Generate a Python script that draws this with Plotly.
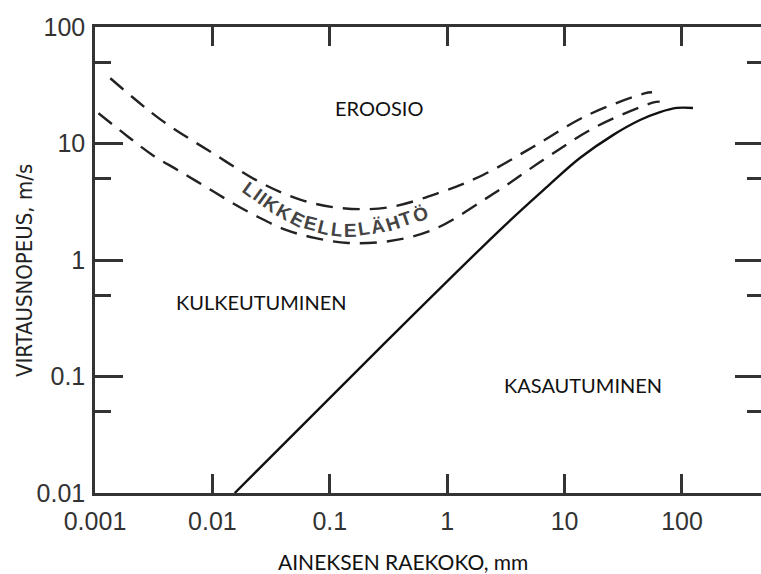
import numpy as np
import plotly.graph_objects as go

# ---------------- data (grain size mm, velocity m/s) ----------------
erosion_upper_x = [0.00135, 0.0037, 0.01, 0.0263, 0.0575, 0.126, 0.309, 0.871, 2.02, 5.37, 15.5, 47.9, 55.6]
erosion_upper_v = [36.3, 15.8, 8.3, 4.57, 3.27, 2.79, 2.82, 3.8, 5.37, 9.33, 17.4, 26.9, 27.5]

erosion_lower_x = [0.00107, 0.0019, 0.0031, 0.0051, 0.0087, 0.0148, 0.0245, 0.0417, 0.0741,
                   0.143, 0.316, 0.759, 2.4, 6.61, 18.2, 56.2, 64.6]
erosion_lower_v = [18.2, 11.5, 7.94, 5.89, 4.27, 3.09, 2.34, 1.82, 1.55,
                   1.40, 1.45, 1.82, 3.63, 7.24, 13.8, 22.4, 22.9]

deposition_x = [0.0155, 0.27, 2.93, 7.08, 13.5, 25.8, 43.9, 65, 90.6, 124]
deposition_v = [0.01, 0.178, 1.88, 4.24, 7.5, 11.8, 15.9, 18.6, 20.2, 20.2]

x_tickvals = [0.001, 0.01, 0.1, 1, 10, 100]
x_ticktext = ["0.001", "0.01", "0.1", "1", "10", "100"]
y_tickvals = [0.01, 0.1, 1, 10, 100]
y_ticktext = ["0.01", "0.1", "1", "10", "100"]
y_minor = [0.05, 0.5, 5, 50]

region_labels = ["EROOSIO", "KULKEUTUMINEN", "KASAUTUMINEN"]
region_lx = [-0.58, -1.58, 1.16]   # log10 positions
region_ly = [1.305, -0.36, -1.07]

curve_label = "LIIKKEELLELÄHTÖ"

x_title = "AINEKSEN RAEKOKO, mm"
y_title = "VIRTAUSNOPEUS, m/s"

# ---------------- layout constants ----------------
W, H = 761, 574
ML, MR, MT, MB = 95, 0, 27, 81
X_RANGE = [-3, 2.673]
Y_RANGE = [-2, 2]
PW, PH = W - ML - MR, H - MT - MB
SL, ST = ML, MT
AX = "#333333"

fig = go.Figure()

dash = "17px,10px"
fig.add_trace(go.Scatter(x=erosion_upper_x, y=erosion_upper_v, mode="lines",
                         line=dict(color="#222", width=2.4, dash=dash, shape="spline", smoothing=1.0),
                         hoverinfo="skip", showlegend=False))
fig.add_trace(go.Scatter(x=erosion_lower_x, y=erosion_lower_v, mode="lines",
                         line=dict(color="#222", width=2.4, dash=dash, shape="spline", smoothing=1.0),
                         hoverinfo="skip", showlegend=False))
fig.add_trace(go.Scatter(x=deposition_x, y=deposition_v, mode="lines",
                         line=dict(color="#111", width=2.4, shape="spline", smoothing=1.0),
                         hoverinfo="skip", showlegend=False))
# invisible trace to activate the right-side tick axis
fig.add_trace(go.Scatter(x=deposition_x, y=deposition_v, yaxis="y2", mode="lines",
                         line=dict(width=0), opacity=0, hoverinfo="skip", showlegend=False))

tickfont = dict(family="Liberation Sans, Arial, sans-serif", size=25, color="#333")

fig.update_layout(
    width=W, height=H, autosize=False,
    margin=dict(l=ML, r=MR, t=MT, b=MB, pad=0),
    paper_bgcolor="white", plot_bgcolor="white",
    xaxis=dict(type="log", range=X_RANGE, showgrid=False, zeroline=False,
               showline=True, linewidth=2.5, linecolor=AX, mirror="ticks",
               ticks="inside", ticklen=19, tickwidth=3, tickcolor=AX,
               tickmode="array", tickvals=x_tickvals, ticktext=x_ticktext,
               tickfont=tickfont, ticklabelstandoff=4),
    yaxis=dict(type="log", range=Y_RANGE, showgrid=False, zeroline=False,
               showline=True, linewidth=2.5, linecolor=AX,
               ticks="inside", ticklen=28, tickwidth=3, tickcolor=AX,
               tickmode="array", tickvals=y_tickvals, ticktext=y_ticktext,
               tickfont=tickfont, ticklabelstandoff=2,
               minor=dict(tickmode="array", tickvals=y_minor, ticks="inside",
                          ticklen=16, tickwidth=3, tickcolor=AX, showgrid=False)),
    yaxis2=dict(type="log", range=Y_RANGE, overlaying="y", side="right", anchor="x",
                showgrid=False, zeroline=False, showline=False,
                ticks="inside", ticklen=26, tickwidth=3, tickcolor=AX,
                tickmode="array", tickvals=y_tickvals, showticklabels=False,
                minor=dict(tickmode="array", tickvals=y_minor, ticks="inside",
                           ticklen=14, tickwidth=3, tickcolor=AX, showgrid=False)),
)

ann = []
for t, lx, ly in zip(region_labels, region_lx, region_ly):
    ann.append(dict(x=lx, y=ly, xref="x", yref="y", text=t, showarrow=False,
                    xanchor="center", yanchor="middle",
                    font=dict(family="Lato, Open Sans, sans-serif", size=20, color="#111")))

ann.append(dict(x=(403 - SL) / PW, y=(ST + PH - 561) / PH, xref="paper", yref="paper",
                text=x_title, showarrow=False, xanchor="center", yanchor="middle",
                font=dict(family="Lato, Open Sans, sans-serif", size=21, color="#111")))
ann.append(dict(x=(24 - SL) / PW, y=(ST + PH - 271) / PH, xref="paper", yref="paper",
                text=y_title, showarrow=False, textangle=-90, xanchor="center", yanchor="middle",
                font=dict(family="Liberation Sans Narrow, DejaVu Sans Condensed, sans-serif",
                          size=22, color="#222")))

# curved label placed letter by letter along a guide path (screen pixels)
guide_px = np.array([250, 275, 300, 327, 350, 370, 387, 403, 420], float)
guide_py = np.array([189, 207, 221, 228, 231, 228, 225, 220, 214], float)
seg = np.hypot(np.diff(guide_px), np.diff(guide_py))
s = np.concatenate([[0], np.cumsum(seg)])
adv = {"L": .61, "I": .28, "K": .72, "E": .67, "Ä": .72, "H": .72, "T": .61, "Ö": .78}
w = np.array([adv[c] for c in curve_label])
centers = np.cumsum(w) - w / 2
centers = (centers - centers[0]) / (centers[-1] - centers[0]) * s[-1]
for c, sc in zip(curve_label, centers):
    px = np.interp(sc, s, guide_px)
    py = np.interp(sc, s, guide_py)
    d = 4.0
    p1x, p1y = np.interp(sc - d, s, guide_px), np.interp(sc - d, s, guide_py)
    p2x, p2y = np.interp(sc + d, s, guide_px), np.interp(sc + d, s, guide_py)
    ang = np.degrees(np.arctan2(p2y - p1y, p2x - p1x))
    lx = X_RANGE[0] + (px - SL) / PW * (X_RANGE[1] - X_RANGE[0])
    ly = Y_RANGE[1] - (py - ST) / PH * (Y_RANGE[1] - Y_RANGE[0])
    ann.append(dict(x=lx, y=ly, xref="x", yref="y", text=c, showarrow=False,
                    textangle=float(ang), xanchor="center", yanchor="middle",
                    font=dict(family="Liberation Sans, Arial, sans-serif", size=19,
                              color="#444", weight="bold")))

fig.update_layout(annotations=ann)
fig.write_html("out.html",
               config={"displayModeBar": False},
               post_script="document.body.style.margin='0px';"
                           "document.documentElement.style.overflow='hidden';"
                           "document.body.style.overflow='hidden';")
